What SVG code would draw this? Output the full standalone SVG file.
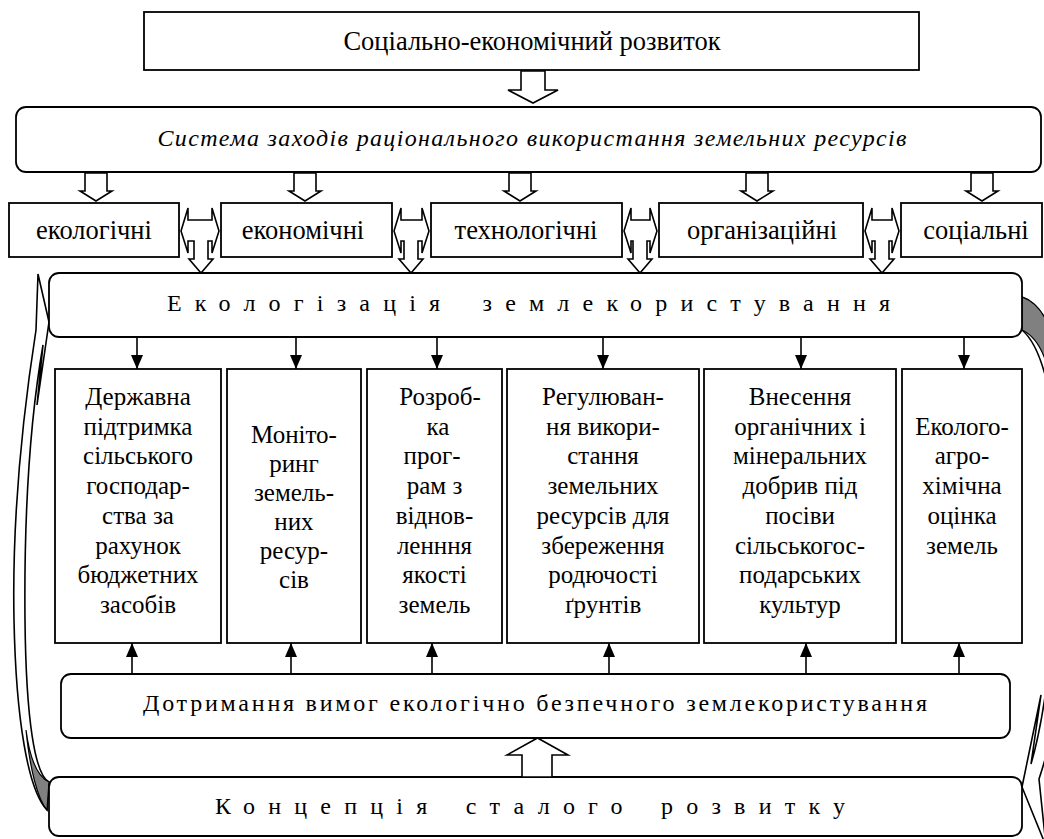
<svg xmlns="http://www.w3.org/2000/svg" width="1044" height="839" viewBox="0 0 1044 839" font-family="'Liberation Serif', 'Times New Roman', serif">
<style>
.box{fill:#fff;stroke:#000;stroke-width:1.8}
.blk{fill:#fff;stroke:#000;stroke-width:1.6;stroke-linejoin:miter}
.cur{fill:#fff;stroke:#000;stroke-width:1.6;stroke-linejoin:miter}
.gry{fill:#808080;stroke:#000;stroke-width:1.2}
.ln{stroke:#000;stroke-width:1.6;fill:none}
.c{text-anchor:middle}
.f26{font-size:26.5px}
.f25{font-size:25px}
.f24{font-size:24px}
</style>
<defs>
<marker id="ah" viewBox="0 0 14 12" refX="14" refY="6" markerWidth="14" markerHeight="12" markerUnits="userSpaceOnUse" orient="auto">
<path d="M0,0 L14,6 L0,12 Z" fill="#000"/>
</marker>
</defs>
<rect width="1044" height="839" fill="#fff"/>

<g id="curved-arrows">
<path class="cur" d="M49,322 L38,274 L36,330 C22,420 12,520 14,620 C16,720 28,790 47,810 L49,782 C35,775 26,720 25,620 C24,520 30,420 43,345 L37,405 Z"/>
<path class="gry" d="M26,730 C30,770 38,800 47,810 L49,782 C38,777 30,760 26,730 Z"/>
<path class="cur" d="M1022,787 L1041,695 L1031,764 C1050,700 1062,560 1058,470 C1054,390 1040,345 1022,330 L1022,297 C1048,305 1070,360 1076,470 C1080,580 1065,700 1039,779 L1046,846 Z"/>
<path class="gry" d="M1022,297 C1033,301 1041,309 1047,322 L1046,362 C1041,347 1033,335 1022,330 Z"/>
</g>

<g id="n-top">
<rect class="box" x="144" y="12" width="775" height="58"/>
<text class="c f26" x="532" y="50">Соціально-економічний розвиток</text>
</g>

<g id="n-system">
<rect class="box" x="16" y="107" width="1025" height="65" rx="10"/>
<text class="c f24" x="532" y="146" font-style="italic" textLength="749" lengthAdjust="spacing">Система заходів раціонального використання земельних ресурсів</text>
</g>

<g id="n-eco">
<rect class="box" x="9" y="203" width="170" height="54"/>
<text class="c f26" x="94" y="239">екологічні</text>
</g>
<g id="n-econ">
<rect class="box" x="221" y="203" width="171" height="54"/>
<text class="c f26" x="303" y="239">економічні</text>
</g>
<g id="n-tech">
<rect class="box" x="431" y="203" width="191" height="54"/>
<text class="c f26" x="526" y="239">технологічні</text>
</g>
<g id="n-org">
<rect class="box" x="659" y="203" width="204" height="54"/>
<text class="c f26" x="762" y="239">організаційні</text>
</g>
<g id="n-soc">
<rect class="box" x="901" y="203" width="141" height="54"/>
<text class="c f26" x="976" y="239">соціальні</text>
</g>

<g id="n-ecologization">
<rect class="box" x="49" y="273" width="973" height="64" rx="10"/>
<text class="f24" x="167" y="311" textLength="723" lengthAdjust="spacing" word-spacing="10">Екологізація землекористування</text>
</g>

<g id="n-b1">
<rect class="box" x="55" y="369" width="166" height="274"/>
<text class="c f25"><tspan x="138" y="405">Державна</tspan><tspan x="138" y="434.7">підтримка</tspan><tspan x="138" y="464.4">сільського</tspan><tspan x="138" y="494.1">господар-</tspan><tspan x="138" y="523.8">ства за</tspan><tspan x="138" y="553.5">рахунок</tspan><tspan x="138" y="583.2">бюджетних</tspan><tspan x="138" y="612.9">засобів</tspan></text>
</g>
<g id="n-b2">
<rect class="box" x="227" y="369" width="134" height="274"/>
<text class="c f25"><tspan x="294" y="443">Моніто-</tspan><tspan x="294" y="472">ринг</tspan><tspan x="294" y="501">земель-</tspan><tspan x="294" y="530">них</tspan><tspan x="294" y="559">ресур-</tspan><tspan x="294" y="588">сів</tspan></text>
</g>
<g id="n-b3">
<rect class="box" x="367" y="369" width="135" height="274"/>
<text class="c f25"><tspan x="440" y="405">Розроб-</tspan><tspan x="438" y="434.7">ка</tspan><tspan x="432" y="464.4">прог-</tspan><tspan x="434.5" y="494.1">рам з</tspan><tspan x="434.5" y="523.8">віднов-</tspan><tspan x="434.5" y="553.5">&#1083;&#1077;&#1085;&#1085;&#1085;&#1103;</tspan><tspan x="434.5" y="583.2">якості</tspan><tspan x="434.5" y="612.9">земель</tspan></text>
</g>
<g id="n-b4">
<rect class="box" x="507" y="369" width="192" height="274"/>
<text class="c f25"><tspan x="603" y="405">Регулюван-</tspan><tspan x="603" y="434.7">ня викори-</tspan><tspan x="603" y="464.4">стання</tspan><tspan x="603" y="494.1">земельних</tspan><tspan x="603" y="523.8">ресурсів для</tspan><tspan x="603" y="553.5">збереження</tspan><tspan x="603" y="583.2">родючості</tspan><tspan x="603" y="612.9">ґрунтів</tspan></text>
</g>
<g id="n-b5">
<rect class="box" x="704" y="369" width="192" height="274"/>
<text class="c f25"><tspan x="800" y="405">Внесення</tspan><tspan x="800" y="434.7">органічних і</tspan><tspan x="800" y="464.4">мінеральних</tspan><tspan x="800" y="494.1">добрив під</tspan><tspan x="800" y="523.8">посіви</tspan><tspan x="800" y="553.5">сільськогос-</tspan><tspan x="800" y="583.2">подарських</tspan><tspan x="800" y="612.9">культур</tspan></text>
</g>
<g id="n-b6">
<rect class="box" x="902" y="369" width="120" height="274"/>
<text class="c f25"><tspan x="962" y="434.7">Еколого-</tspan><tspan x="962" y="464.4">агро-</tspan><tspan x="962" y="494.1">хімічна</tspan><tspan x="962" y="523.8">оцінка</tspan><tspan x="962" y="553.5">земель</tspan></text>
</g>

<g id="n-compliance">
<rect class="box" x="61" y="674" width="949" height="64" rx="10"/>
<text class="f24" x="143" y="711" textLength="784" lengthAdjust="spacing">Дотримання вимог екологічно безпечного землекористування</text>
</g>

<g id="n-concept">
<rect class="box" x="49" y="777" width="973" height="59" rx="10"/>
<text class="f24" x="215" y="814" textLength="630" lengthAdjust="spacing" word-spacing="6">Концепція сталого розвитку</text>
</g>

<g id="connectors">
<path class="blk" d="M521,71 L545,71 L545,90 L558,90 L533,103 L508,90 L521,90 Z"/>
<path class="blk" d="M85,173 L107,173 L107,191 L112,191 L96,201 L80,191 L85,191 Z"/>
<path class="blk" d="M294,173 L316,173 L316,191 L321,191 L305,201 L289,191 L294,191 Z"/>
<path class="blk" d="M509,173 L531,173 L531,191 L536,191 L520,201 L504,191 L509,191 Z"/>
<path class="blk" d="M746,173 L768,173 L768,191 L773,191 L757,201 L741,191 L746,191 Z"/>
<path class="blk" d="M971,173 L993,173 L993,191 L998,191 L982,201 L966,191 L971,191 Z"/>
<path class="blk" d="M181,231 L188,208 L188,220 L212,220 L212,208 L219,231 L212,253 L212,241 L208,241 L208,259 L213,259 L201,273 L189,259 L194,259 L194,241 L188,241 L188,253 Z"/>
<path class="blk" d="M394,231 L401,208 L401,220 L422,220 L422,208 L429,231 L422,253 L422,241 L418,241 L418,259 L423,259 L411,273 L399,259 L404,259 L404,241 L401,241 L401,253 Z"/>
<path class="blk" d="M624,231 L631,208 L631,220 L650,220 L650,208 L657,231 L650,253 L650,241 L647,241 L647,259 L652,259 L640,273 L628,259 L633,259 L633,241 L631,241 L631,253 Z"/>
<path class="blk" d="M865,231 L872,208 L872,220 L892,220 L892,208 L899,231 L892,253 L892,241 L889,241 L889,259 L894,259 L882,273 L870,259 L875,259 L875,241 L872,241 L872,253 Z"/>
<line class="ln" x1="137" y1="337" x2="137" y2="369" marker-end="url(#ah)"/>
<line class="ln" x1="296" y1="337" x2="296" y2="369" marker-end="url(#ah)"/>
<line class="ln" x1="437" y1="337" x2="437" y2="369" marker-end="url(#ah)"/>
<line class="ln" x1="603" y1="337" x2="603" y2="369" marker-end="url(#ah)"/>
<line class="ln" x1="801" y1="337" x2="801" y2="369" marker-end="url(#ah)"/>
<line class="ln" x1="964" y1="337" x2="964" y2="369" marker-end="url(#ah)"/>
<line class="ln" x1="132" y1="674" x2="132" y2="643" marker-end="url(#ah)"/>
<line class="ln" x1="291" y1="674" x2="291" y2="643" marker-end="url(#ah)"/>
<line class="ln" x1="432" y1="674" x2="432" y2="643" marker-end="url(#ah)"/>
<line class="ln" x1="609" y1="674" x2="609" y2="643" marker-end="url(#ah)"/>
<line class="ln" x1="806" y1="674" x2="806" y2="643" marker-end="url(#ah)"/>
<line class="ln" x1="959" y1="674" x2="959" y2="643" marker-end="url(#ah)"/>
<path class="blk" d="M522,777 L522,755 L507,755 L537.5,738 L568,755 L552,755 L552,777 Z"/>
</g>
</svg>
